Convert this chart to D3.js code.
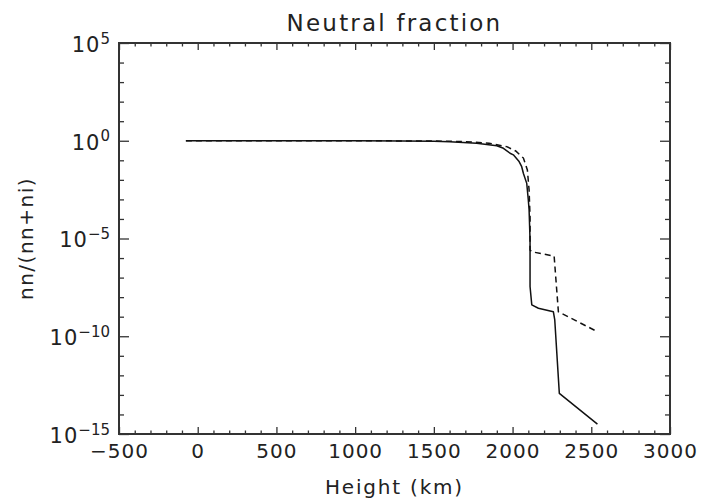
<!DOCTYPE html>
<html>
<head>
<meta charset="utf-8">
<script src="https://cdn.jsdelivr.net/npm/d3@7"></script>
<style>
  body { margin: 0; background: #fff; }
  text { font-family: "DejaVu Sans", sans-serif; fill: #222; }
</style>
</head>
<body>
<svg id="chart"></svg>
<script>
  // height (km) and neutral fraction
  var solidHeight = [-75, 500, 1000, 1300, 1500, 1600, 1772, 1900, 1942, 1984, 2005, 2040, 2058, 2069, 2090, 2100, 2105, 2111, 2111, 2122, 2164, 2259, 2268, 2297, 2539];
  var solidFrac   = [1, 1, 0.99, 0.97, 0.93, 0.89, 0.74, 0.55, 0.41, 0.23, 0.19, 0.09, 0.047, 0.021, 6.6e-3, 9.3e-4, 2.9e-4, 8.5e-6, 3.5e-8, 4.0e-9, 2.7e-9, 1.8e-9, 6.8e-10, 1.2e-13, 3.2e-15];

  var dashHeight = [-75, 1000, 1500, 1700, 1850, 1963, 2020, 2069, 2094, 2105, 2111, 2111, 2122, 2264, 2291, 2539];
  var dashFrac   = [1, 1, 0.97, 0.9, 0.75, 0.5, 0.3, 0.13, 0.032, 3.0e-3, 1.3e-4, 2.6e-6, 2.1e-6, 1.26e-6, 1.8e-9, 1.7e-10];

  var xMajor = [-500, 0, 500, 1000, 1500, 2000, 2500, 3000];
  var yExponents = [5, 0, -5, -10, -15];

  var svgWidth = 701, svgHeight = 504;
  var margin = { top: 43, right: 31, bottom: 70, left: 119 };
  var width = svgWidth - margin.left - margin.right;
  var height = svgHeight - margin.top - margin.bottom;

  var svg = d3.select('#chart')
     .attr("width", svgWidth)
     .attr("height", svgHeight);

  var g = svg.append("g")
     .attr("transform", "translate(" + margin.left + "," + margin.top + ")");

  var x = d3.scaleLinear().domain([-500, 3000]).range([0, width]);
  var y = d3.scaleLog().domain([1e-15, 1e5]).range([height, 0]);

  var xMinor = d3.range(-500, 3001, 100).filter(function(v) { return v % 500 != 0; });
  var yMajor = yExponents.map(function(e) { return Math.pow(10, e); });
  var yMinor = d3.range(-15, 6).filter(function(e) { return e % 5 != 0; })
      .map(function(e) { return Math.pow(10, e); });

  function styleAxis(sel) {
    sel.selectAll(".domain").remove();
    sel.selectAll(".tick line").attr("stroke", "#333").attr("stroke-width", 1.3);
  }

  // bottom + top
  g.append("g").attr("transform", "translate(0," + height + ")")
    .call(d3.axisBottom(x).tickValues(xMajor).tickSizeInner(-7).tickSizeOuter(0).tickPadding(10)
      .tickFormat(function(d) { return d < 0 ? "\u2212" + (-d) : d; }))
    .call(styleAxis)
    .selectAll("text").attr("font-size", 20).attr("letter-spacing", 1).attr("fill", "#222");
  g.append("g").attr("transform", "translate(0," + height + ")")
    .call(d3.axisBottom(x).tickValues(xMinor).tickSizeInner(-3.5).tickSizeOuter(0).tickFormat(""))
    .call(styleAxis);
  g.append("g")
    .call(d3.axisTop(x).tickValues(xMajor).tickSizeInner(-7).tickSizeOuter(0).tickFormat(""))
    .call(styleAxis);
  g.append("g")
    .call(d3.axisTop(x).tickValues(xMinor).tickSizeInner(-3.5).tickSizeOuter(0).tickFormat(""))
    .call(styleAxis);

  // left + right
  var yl = g.append("g")
    .call(d3.axisLeft(y).tickValues(yMajor).tickSizeInner(-10).tickSizeOuter(0).tickPadding(9).tickFormat(""))
    .call(styleAxis);
  yl.selectAll(".tick text").each(function(d) {
    var t = d3.select(this).attr("font-size", 21).attr("dy", "0.4em").attr("fill", "#222");
    var e = Math.round(Math.log10(d));
    t.append("tspan").attr("letter-spacing", 1).text("10");
    t.append("tspan").attr("font-size", 15).attr("dy", "-0.55em")
      .text(e < 0 ? "\u2212" + (-e) : e);
  });
  g.append("g")
    .call(d3.axisLeft(y).tickValues(yMinor).tickSizeInner(-5).tickSizeOuter(0).tickFormat(""))
    .call(styleAxis);
  g.append("g").attr("transform", "translate(" + width + ",0)")
    .call(d3.axisRight(y).tickValues(yMajor).tickSizeInner(-10).tickSizeOuter(0).tickFormat(""))
    .call(styleAxis);
  g.append("g").attr("transform", "translate(" + width + ",0)")
    .call(d3.axisRight(y).tickValues(yMinor).tickSizeInner(-5).tickSizeOuter(0).tickFormat(""))
    .call(styleAxis);

  // frame
  g.append("rect")
    .attr("width", width).attr("height", height)
    .attr("fill", "none").attr("stroke", "#333").attr("stroke-width", 2);

  var line = d3.line()
      .x(function(d) { return x(d[0]); })
      .y(function(d) { return y(d[1]); });

  g.append("path")
    .datum(d3.zip(dashHeight, dashFrac))
    .attr("fill", "none").attr("stroke", "#111").attr("stroke-width", 1.5)
    .attr("stroke-dasharray", "6,4")
    .attr("d", line);

  g.append("path")
    .datum(d3.zip(solidHeight, solidFrac))
    .attr("fill", "none").attr("stroke", "#111").attr("stroke-width", 1.5)
    .attr("stroke-linejoin", "round")
    .attr("d", line);

  svg.append("text")
    .attr("x", margin.left + width / 2).attr("y", 31)
    .attr("text-anchor", "middle").attr("font-size", 23).attr("letter-spacing", 2.2)
    .text("Neutral fraction");

  svg.append("text")
    .attr("x", margin.left + width / 2).attr("y", 494)
    .attr("text-anchor", "middle").attr("font-size", 20).attr("letter-spacing", 1.8)
    .text("Height (km)");

  svg.append("text")
    .attr("transform", "translate(33," + (margin.top + height / 2) + ") rotate(-90)")
    .attr("text-anchor", "middle").attr("font-size", 20).attr("letter-spacing", 1.5)
    .text("nn/(nn+ni)");
</script>
</body>
</html>
